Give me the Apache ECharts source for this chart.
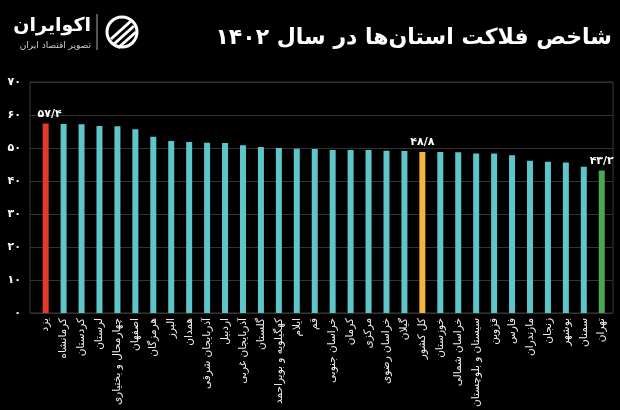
<!DOCTYPE html>
<html>
<head>
<meta charset="utf-8">
<script src="https://cdn.jsdelivr.net/npm/echarts@6/dist/echarts.min.js"></script>
<style>
html,body{margin:0;padding:0;background:#000;}
#c{width:620px;height:410px;}
</style>
</head>
<body>
<div id="c"></div>
<script>
const categories = ['یزد','کرمانشاه','کردستان','لرستان','چهارمحال و بختیاری','اصفهان','هرمزگان','البرز','همدان','آذربایجان شرقی','اردبیل','آذربایجان غربی','گلستان','کهگیلویه و بویراحمد','ایلام','قم','خراسان جنوبی','کرمان','مرکزی','خراسان رضوی','گیلان','کل کشور','خوزستان','خراسان شمالی','سیستان و بلوچستان','قزوین','فارس','مازندران','زنجان','بوشهر','سمنان','تهران'];
const values = [57.4,57.3,57.2,56.7,56.6,55.7,53.4,52.1,51.8,51.6,51.5,50.8,50.3,50.0,49.8,49.7,49.4,49.4,49.4,49.2,49.1,48.8,48.8,48.7,48.3,48.3,47.8,46.1,45.8,45.6,44.3,43.2];
const yTickLabels = ['۰','۱۰','۲۰','۳۰','۴۰','۵۰','۶۰','۷۰'];
const labelledIdx = [0, 21, 31];
const highlightColors = {0:'#e2392b', 21:'#f2b63c', 31:'#4fa650'};
const titleText = 'شاخص فلاکت استان‌ها در سال ۱۴۰۲';

const toFa = v => String(v).replace(/\d/g, d => '۰۱۲۳۴۵۶۷۸۹'[d]).replace('.', '/');
const FONT = '"DejaVu Sans", "Noto Sans", sans-serif';

const seriesData = values.map((v, i) => {
  const item = { value: v, itemStyle: { color: highlightColors[i] || '#5ec6c9' } };
  if (labelledIdx.includes(i)) {
    item.label = { show: true, position: 'top', distance: 4, color: '#fff', fontSize: 11, fontWeight: 'bold', fontFamily: FONT, formatter: p => toFa(p.value) };
    if (i === 0) item.label.offset = [4, 0];
  }
  return item;
});

const chart = echarts.init(document.getElementById('c'), null, { renderer: 'canvas' });
chart.setOption({
  backgroundColor: '#000',
  animation: false,
  grid: [
    { left: 30, right: 7, top: 82, bottom: 97, show: true, borderColor: '#3a3a3a', borderWidth: 1 },
    { left: 36.7, right: 9.3, top: 82, bottom: 97 }
  ],
  xAxis: [
    { gridIndex: 0, type: 'value', show: false, min: 0, max: 1 },
    { gridIndex: 1, type: 'category', data: categories,
      axisLine: { show: false }, axisTick: { show: false },
      axisLabel: { rotate: 90, interval: 0, margin: 5, color: '#f2f2f2', fontSize: 10.5, fontFamily: FONT } }
  ],
  yAxis: [
    { gridIndex: 0, type: 'value', min: 0, max: 70, interval: 10,
      axisLine: { show: false }, axisTick: { show: false },
      splitLine: { lineStyle: { color: '#333', width: 1 } },
      axisLabel: { margin: 9, color: '#fff', fontSize: 11, fontWeight: 'bold', fontFamily: FONT, formatter: v => yTickLabels[Math.round(v / 10)] } },
    { gridIndex: 1, type: 'value', min: 0, max: 70, show: false, splitLine: { show: false } }
  ],
  series: [{
    type: 'bar', xAxisIndex: 1, yAxisIndex: 1, data: seriesData, barWidth: 6
  }],
  graphic: [
    { type: 'text', right: 8, top: 27, style: { text: titleText, fill: '#fff', font: 'bold 22px ' + FONT, textAlign: 'right' } },
    { type: 'circle', shape: { cx: 122, cy: 32, r: 15 }, style: { fill: 'none', stroke: '#fff', lineWidth: 3 } },
    { type: 'line', shape: { x1: 111, y1: 39, x2: 131, y2: 21 }, style: { stroke: '#fff', lineWidth: 3 } },
    { type: 'line', shape: { x1: 114, y1: 44, x2: 134, y2: 26 }, style: { stroke: '#fff', lineWidth: 3 } },
    { type: 'line', shape: { x1: 118, y1: 48, x2: 136, y2: 32 }, style: { stroke: '#fff', lineWidth: 3 } },
    { type: 'line', shape: { x1: 97, y1: 14, x2: 97, y2: 50 }, style: { stroke: '#aaa', lineWidth: 1 } },
    { type: 'text', x: 91, y: 17, style: { text: 'اکوایران', fill: '#fff', font: 'bold 19px ' + FONT, textAlign: 'right' } },
    { type: 'text', x: 91, y: 41, style: { text: 'تصویر اقتصاد ایران', fill: '#ccc', font: '9px ' + FONT, textAlign: 'right' } }
  ]
});
</script>
</body>
</html>
